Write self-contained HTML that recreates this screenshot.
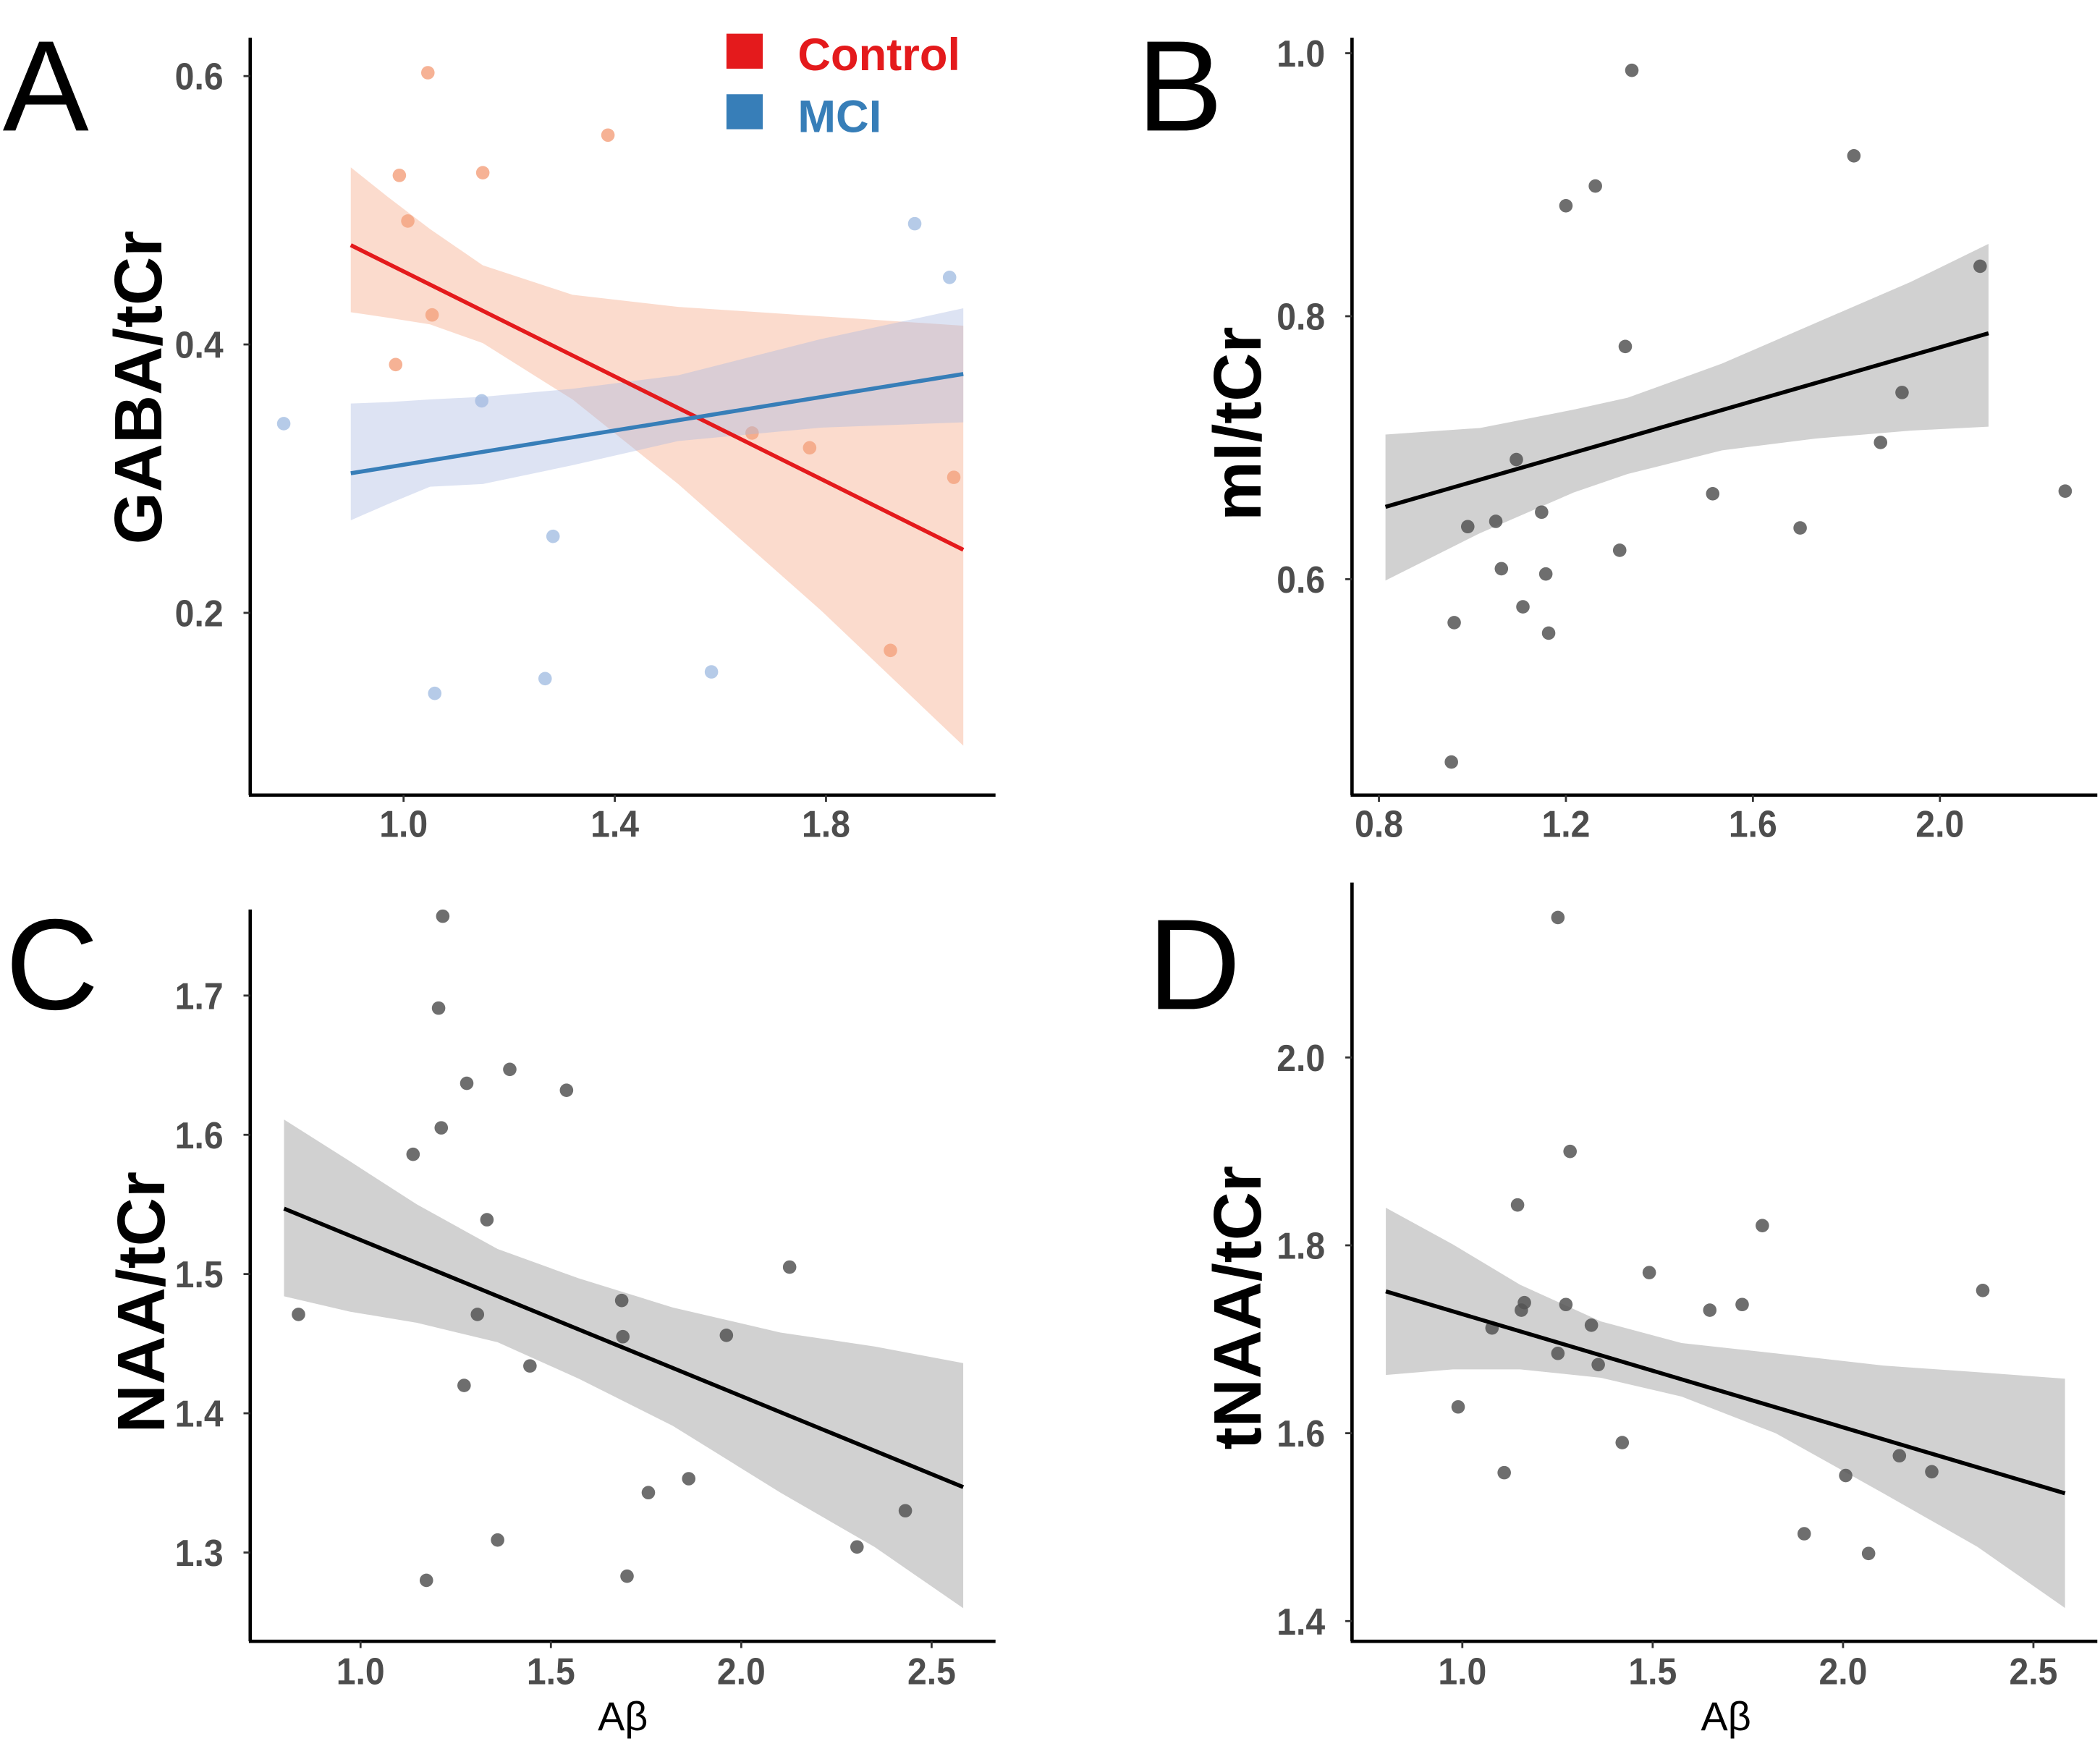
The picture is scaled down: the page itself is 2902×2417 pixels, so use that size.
<!DOCTYPE html>
<html><head><meta charset="utf-8"><style>
html,body{margin:0;padding:0;background:#fff;}
svg{display:block;}
</style></head><body>
<svg id="fig" width="2902" height="2417" viewBox="0 0 1561 1300" xmlns="http://www.w3.org/2000/svg" font-family="'Liberation Sans', 'DejaVu Sans', sans-serif"></svg>
<script>
// ---- Panel A data ----
const aCtrlX=[1.046,0.992,1.008,1.150,1.387,1.054,0.985,1.660,1.769,1.922,2.042];
const aCtrlY=[0.6025,0.526,0.492,0.528,0.556,0.422,0.385,0.334,0.323,0.172,0.301];
const aMciX=[0.773,1.148,1.283,1.059,1.268,1.583,1.968,2.034];
const aMciY=[0.341,0.358,0.257,0.140,0.151,0.156,0.490,0.450];
const aBandX=[0.90,0.97,1.05,1.15,1.32,1.52,1.79,2.06];
const aCtrlUp=[0.532,0.510,0.486,0.459,0.437,0.428,0.421,0.414];
const aCtrlLo=[0.424,0.420,0.415,0.401,0.359,0.296,0.202,0.101];
const aMciUp=[0.356,0.357,0.359,0.361,0.367,0.377,0.404,0.427];
const aMciLo=[0.269,0.281,0.294,0.296,0.310,0.328,0.338,0.342];
const aCtrlFit=[0.474,0.247];
const aMciFit=[0.304,0.378];
const aXTicks=[1.0,1.4,1.8];
const aYTicks=[0.2,0.4,0.6];
// ---- Panel B data ----
const bX=[1.341,1.263,1.200,1.816,1.327,2.086,1.919,1.873,1.094,1.514,2.268,0.990,1.050,1.148,1.701,1.315,1.062,1.157,1.108,0.961,1.163,0.955];
const bY=[0.987,0.899,0.884,0.922,0.777,0.838,0.742,0.704,0.691,0.665,0.667,0.640,0.644,0.651,0.639,0.622,0.608,0.604,0.579,0.567,0.559,0.461];
const bBandX=[0.814,1.016,1.217,1.332,1.534,1.735,1.937,2.104];
const bUp=[0.710,0.715,0.729,0.738,0.764,0.795,0.826,0.855];
const bLo=[0.599,0.635,0.666,0.680,0.698,0.707,0.713,0.716];
const bFit=[0.655,0.787];
const bXTicks=[0.8,1.2,1.6,2.0];
const bYTicks=[0.6,0.8,1.0];
// ---- Panel C data ----
const cX=[1.216,1.205,1.279,1.392,1.541,1.138,1.212,1.332,0.837,1.307,1.686,1.689,2.127,1.961,1.272,1.445,1.756,1.862,1.360,1.173,1.700,2.304,2.431];
const cY=[1.757,1.691,1.637,1.647,1.632,1.586,1.605,1.539,1.471,1.471,1.481,1.455,1.505,1.456,1.420,1.434,1.343,1.353,1.309,1.280,1.283,1.304,1.330];
const cBandX=[0.799,0.972,1.148,1.360,1.572,1.820,2.103,2.350,2.583];
const cUp=[1.611,1.581,1.550,1.518,1.497,1.476,1.458,1.448,1.436];
const cLo=[1.484,1.473,1.465,1.451,1.425,1.391,1.343,1.304,1.260];
const cFit=[1.547,1.347];
const cXTicks=[1.0,1.5,2.0,2.5];
const cYTicks=[1.3,1.4,1.5,1.6,1.7];
// ---- Panel D data ----
const dX=[1.251,1.283,1.145,1.788,1.491,2.367,1.163,1.272,1.155,1.650,1.735,1.078,1.339,1.251,1.357,0.989,1.420,1.110,2.148,2.007,2.233,1.898,2.067];
const dY=[2.149,1.900,1.843,1.821,1.771,1.752,1.739,1.737,1.731,1.731,1.737,1.712,1.715,1.685,1.673,1.628,1.590,1.558,1.576,1.555,1.559,1.493,1.472];
const dBandX=[0.799,0.975,1.152,1.364,1.576,1.823,2.106,2.353,2.583];
const dUp=[1.840,1.801,1.758,1.719,1.696,1.685,1.672,1.665,1.658];
const dLo=[1.662,1.668,1.668,1.659,1.639,1.600,1.536,1.479,1.414];
const dFit=[1.751,1.536];
const dXTicks=[1.0,1.5,2.0,2.5];
const dYTicks=[1.4,1.6,1.8,2.0];

const NS='http://www.w3.org/2000/svg';
const svg=document.getElementById('fig');
function el(tag,attrs,parent,text){
  const e=document.createElementNS(NS,tag);
  for(const k in attrs) e.setAttribute(k,attrs[k]);
  if(text!==undefined) e.textContent=text;
  (parent||svg).appendChild(e);
  return e;
}
function band(g,xs,lo,up,X,Y,fill,op,name){
  let d='M'+xs.map((v,i)=>X(v)+','+Y(up[i])).join('L');
  for(let i=xs.length-1;i>=0;i--) d+='L'+X(xs[i])+','+Y(lo[i]);
  const p=el('path',{d:d+'Z',fill:fill,'fill-opacity':op},g);
  
  
}
function fit(g,x0,x1,f,X,Y,color,name){
  const l=el('line',{x1:X(x0),y1:Y(f[0]),x2:X(x1),y2:Y(f[1]),stroke:color,'stroke-width':3},g);
  
  
}
function points(g,xs,ys,X,Y,color,op,name){
  xs.forEach((v,i)=>{
    const c=el('circle',{cx:X(v),cy:Y(ys[i]),r:5,fill:color,'fill-opacity':op},g);
    
    
  });
}
function axes(g,ax,ay0,ay1,bx1,xt,yt,X,Y,xlabY){
  const ya=el('line',{x1:ax,y1:ay0,x2:ax,y2:ay1,stroke:'#000','stroke-width':2.5},g);
  
  
  const xa=el('line',{x1:ax-1,y1:ay1,x2:bx1,y2:ay1,stroke:'#000','stroke-width':2.5},g);
  
  
  yt.forEach(v=>{
    el('line',{x1:ax-5,y1:Y(v),x2:ax,y2:Y(v),stroke:'#333','stroke-width':1.5},g);
    const t=el('text',{x:ax-20,y:Y(v)+10,'text-anchor':'end','font-size':28,'font-weight':'bold',fill:'#4d4d4d',textLength:36,lengthAdjust:'spacingAndGlyphs'},g,v.toFixed(1));
    
    
  });
  xt.forEach(v=>{
    el('line',{x1:X(v),y1:ay1,x2:X(v),y2:ay1+5,stroke:'#333','stroke-width':1.5},g);
    const t=el('text',{x:X(v),y:xlabY,'text-anchor':'middle','font-size':28,'font-weight':'bold',fill:'#4d4d4d',textLength:36,lengthAdjust:'spacingAndGlyphs'},g,v.toFixed(1));
    
    
  });
}
function ytitle(g,x,y,txt){
  const t=el('text',{x:x,y:y,'text-anchor':'middle','font-size':50,'font-weight':'bold',fill:'#000',transform:'rotate(-90 '+x+' '+y+')'},g,txt);
  
  
}
function letter(x,y,txt){
  const t=el('text',{x:x,y:y,'font-size':96,fill:'#000'},svg,txt);
  
  
}
function xtitle(g,x,y){
  const t=el('text',{x:x,y:y,'text-anchor':'middle','font-size':30,fill:'#000'},g,'Aβ');
  
  
}

// Panel A
{
  const g=el('g',{});  
  const X=v=>300+(v-1.0)*392.5, Y=v=>256-(v-0.4)*997.5;
  points(g,aCtrlX,aCtrlY,X,Y,'#f4a582',0.85,'control-point');
  points(g,aMciX,aMciY,X,Y,'#9ebae0',0.75,'mci-point');
  band(g,aBandX,aCtrlLo,aCtrlUp,X,Y,'#f4a582',0.4,'control-ci-band');
  band(g,aBandX,aMciLo,aMciUp,X,Y,'#a9b9e0',0.4,'mci-ci-band');
  fit(g,0.90,2.06,aCtrlFit,X,Y,'#e41a1c','control-fit-line');
  fit(g,0.90,2.06,aMciFit,X,Y,'#377eb8','mci-fit-line');
  axes(g,186,28,591,740,aXTicks,aYTicks,X,Y,622);
  ytitle(g,120,288,'GABA/tCr');
  const l1=el('rect',{x:540,y:25,width:27,height:26,fill:'#e41a1c'},g);  
  const t1=el('text',{x:593,y:52,'font-size':34,'font-weight':'bold',fill:'#e41a1c'},g,'Control');  
  const l2=el('rect',{x:540,y:70,width:27,height:26,fill:'#377eb8'},g);  
  const t2=el('text',{x:593,y:98,'font-size':34,'font-weight':'bold',fill:'#377eb8'},g,'MCI');  
}
// Panel B
{
  const g=el('g',{});  
  const X=v=>1025+(v-0.8)*347.5, Y=v=>235-(v-0.8)*977.5;
  band(g,bBandX,bLo,bUp,X,Y,'#bdbdbd',0.7,'ci-band');
  points(g,bX,bY,X,Y,'#555',0.85,'data-point');
  fit(g,0.814,2.104,bFit,X,Y,'#000','fit-line');
  axes(g,1005,28,591,1559,bXTicks,bYTicks,X,Y,622);
  ytitle(g,937,315,'mI/tCr');
}
// Panel C
{
  const g=el('g',{});  
  const X=v=>268+(v-1)*283, Y=v=>740-(v-1.7)*1035;
  band(g,cBandX,cLo,cUp,X,Y,'#bdbdbd',0.7,'ci-band');
  points(g,cX,cY,X,Y,'#555',0.85,'data-point');
  fit(g,0.799,2.583,cFit,X,Y,'#000','fit-line');
  axes(g,186,676,1220,740,cXTicks,cYTicks,X,Y,1252);
  ytitle(g,122,968,'NAA/tCr');
  xtitle(g,463,1286);
}
// Panel D
{
  const g=el('g',{});  
  const X=v=>1087+(v-1)*283, Y=v=>786-(v-2)*698.3;
  band(g,dBandX,dLo,dUp,X,Y,'#bdbdbd',0.7,'ci-band');
  points(g,dX,dY,X,Y,'#555',0.85,'data-point');
  fit(g,0.799,2.583,dFit,X,Y,'#000','fit-line');
  axes(g,1005,656,1220,1559,dXTicks,dYTicks,X,Y,1252);
  ytitle(g,937,972,'tNAA/tCr');
  xtitle(g,1283,1286);
}
letter(2,97,'A');
letter(845,97,'B');
letter(4,750,'C');
letter(853,750,'D');
</script>
</body></html>
